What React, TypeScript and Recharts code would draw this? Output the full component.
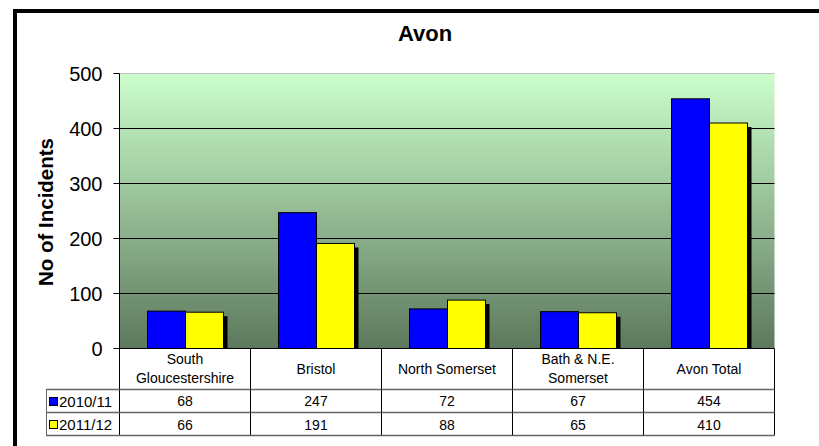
import React from 'react'
import {
  BarChart,
  Bar,
  XAxis,
  YAxis,
  CartesianGrid,
  ReferenceLine,
} from 'recharts'

const categories = [
  'South Gloucestershire',
  'Bristol',
  'North Somerset',
  'Bath & N.E. Somerset',
  'Avon Total',
]
const headerLines = [
  ['South', 'Gloucestershire'],
  ['Bristol'],
  ['North Somerset'],
  ['Bath & N.E.', 'Somerset'],
  ['Avon Total'],
]
const values2010 = [68, 247, 72, 67, 454]
const values2011 = [66, 191, 88, 65, 410]
const seriesNames = ['2010/11', '2011/12']
const yTicks = [0, 100, 200, 300, 400, 500]

const data = categories.map((name, i) => ({
  name,
  y2010: values2010[i],
  y2011: values2011[i],
}))

const W = 819
const H = 446
const PLOT_LEFT = 119.5
const PLOT_RIGHT = 774.5
const CELL_W = (PLOT_RIGHT - PLOT_LEFT) / categories.length
const FONT = 'Arial, "Liberation Sans", sans-serif'
const BLUE = '#0000ff'
const YELLOW = '#ffff00'

function ShadowBar(props: any) {
  const { x, y, width, height, fill } = props
  if (!height || height <= 0) return null
  return (
    <g>
      <rect x={x + 4} y={y + 4} width={width} height={Math.max(height - 4, 0)} fill="#000" />
      <rect x={x} y={y} width={width} height={height} fill={fill} stroke="#000" strokeWidth={1} />
    </g>
  )
}

function PlainBar(props: any) {
  const { x, y, width, height, fill } = props
  if (!height || height <= 0) return null
  return <rect x={x} y={y} width={width} height={height} fill={fill} stroke="#000" strokeWidth={1} />
}

// x axis ticks draw the data table under the plot
function TableTick(props: any) {
  const { x, y, payload } = props
  const i = payload.index
  const left = x - CELL_W / 2
  const right = x + CELL_W / 2
  const lines = headerLines[i]
  const row1 = y + 41
  const row2 = y + 64
  const row3 = y + 87
  const txt = { fontFamily: FONT, fontSize: 14, fill: '#000', textAnchor: 'middle' as const }
  return (
    <g>
      {lines.map((l, k) => (
        <text
          key={k}
          x={x}
          y={lines.length === 1 ? y + 20 : y + 10 + k * 19}
          dominantBaseline="central"
          {...txt}
        >
          {l}
        </text>
      ))}
      <text x={x} y={y + 52} dominantBaseline="central" {...txt}>
        {values2010[i]}
      </text>
      <text x={x} y={y + 76} dominantBaseline="central" {...txt}>
        {values2011[i]}
      </text>
      <line x1={left} x2={left} y1={y} y2={row3} stroke="#000" />
      <line x1={right} x2={right} y1={y} y2={row3} stroke="#000" />
      <line x1={left} x2={right} y1={row1} y2={row1} stroke="#666" strokeWidth={1.5} />
      <line x1={left} x2={right} y1={row2} y2={row2} stroke="#666" strokeWidth={1.5} />
      <line x1={left} x2={right} y1={row3} y2={row3} stroke="#666" strokeWidth={1.5} />
      {i === 0 && (
        <g>
          <line x1={46} x2={left} y1={row1} y2={row1} stroke="#666" strokeWidth={1.5} />
          <line x1={46} x2={left} y1={row2} y2={row2} stroke="#666" strokeWidth={1.5} />
          <line x1={46} x2={left} y1={row3} y2={row3} stroke="#666" strokeWidth={1.5} />
          <line x1={46.5} x2={46.5} y1={row1} y2={row3} stroke="#666" />
          {[BLUE, YELLOW].map((c, k) => (
            <g key={k}>
              <rect x={49.5} y={Math.round(k === 0 ? row1 : row2) + 7.5} width={8} height={8} fill={c} stroke="#000" />
              <text
                x={59}
                y={(k === 0 ? row1 : row2) + 12}
                dominantBaseline="central"
                fontFamily={FONT}
                fontSize={15}
                fill="#000"
              >
                {seriesNames[k]}
              </text>
            </g>
          ))}
        </g>
      )}
    </g>
  )
}

export default function App() {
  return (
    <div style={{ position: 'absolute', left: 0, top: 0, width: W, height: H, background: '#fff', overflow: 'hidden' }}>
      <svg width={W} height={H} style={{ position: 'absolute', left: 0, top: 0 }}>
        <rect x={15} y={11} width={W} height={H} fill="none" stroke="#000" strokeWidth={4} />
        <text x={425} y={41} textAnchor="middle" fontFamily={FONT} fontWeight="bold" fontSize={22} fill="#000">
          Avon
        </text>
      </svg>
      <div style={{ position: 'absolute', left: 0, top: 0 }}>
        <BarChart
          width={W}
          height={H}
          data={data}
          margin={{ top: 73.5, right: W - PLOT_RIGHT, bottom: 10.5, left: PLOT_LEFT - 61 }}
          barGap={0}
          barSize={38}
        >
          <defs>
            <linearGradient id="plotBg" x1="0" y1="0" x2="0" y2="1">
              <stop offset="0%" stopColor="#ccffcc" />
              <stop offset="100%" stopColor="#5d785d" />
            </linearGradient>
          </defs>
          <CartesianGrid
            vertical={false}
            horizontalValues={[100, 200, 300, 400]}
            stroke="#000"
            strokeOpacity={1}
            fill="url(#plotBg)"
            fillOpacity={1}
          />
          <ReferenceLine y={500} stroke="#c0c0c0" />
          <XAxis
            dataKey="name"
            interval={0}
            height={87}
            tickSize={0}
            tickMargin={0}
            axisLine={{ stroke: '#000' }}
            tickLine={false}
            tick={<TableTick />}
          />
          <YAxis
            width={61}
            domain={[0, 500]}
            ticks={yTicks}
            interval={0}
            tickSize={6}
            tickMargin={11}
            axisLine={{ stroke: '#000' }}
            tickLine={{ stroke: '#000' }}
            tick={{ fill: '#000', fontSize: 20, fontFamily: FONT }}
            label={{
              content: () => (
                <text
                  x={45}
                  y={212}
                  transform="rotate(-90 45 212)"
                  textAnchor="middle"
                  dominantBaseline="central"
                  fontFamily={FONT}
                  fontWeight="bold"
                  fontSize={20.5}
                  fill="#000"
                >
                  No of Incidents
                </text>
              ),
            }}
          />
          <Bar dataKey="y2010" name={seriesNames[0]} fill={BLUE} shape={<PlainBar />} isAnimationActive={false} />
          <Bar dataKey="y2011" name={seriesNames[1]} fill={YELLOW} shape={<ShadowBar />} isAnimationActive={false} />
        </BarChart>
      </div>
    </div>
  )
}
